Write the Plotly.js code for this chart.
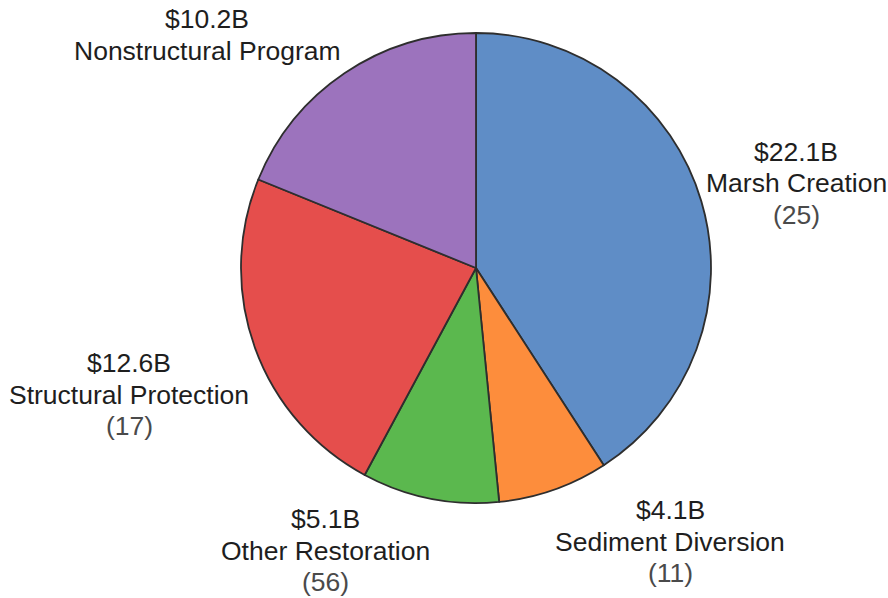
<!DOCTYPE html>
<html>
<head>
<meta charset="utf-8">
<script src="https://cdn.plot.ly/plotly-3.0.1.min.js"></script>
<style>html,body{margin:0;padding:0;background:#fff;}#chart{width:888px;height:598px;}</style>
</head>
<body>
<div id="chart"></div>
<script>
// ---- data ----
var categories = ["Marsh Creation", "Sediment Diversion", "Other Restoration", "Structural Protection", "Nonstructural Program"];
var costs = [22.1, 4.1, 5.1, 12.6, 10.2];          // $ billions
var projectCounts = [25, 11, 56, 17, null];       // number of projects (none shown for Nonstructural)

// ---- styles / layout positions ----
var colors = ["#5f8dc6", "#fd8d3c", "#5bb84e", "#e54e4c", "#9c73bd"];
// label block centre x and first-line centre y (pixels)
var labelPos = [[796, 152], [670, 510], [325, 519], [129, 363], [207, 19]];
var lineGap = 31.5;
var W = 888, H = 598;
var M = {l: 241, r: 177, t: 33, b: 95};
var pw = W - M.l - M.r, ph = H - M.t - M.b;

function px2paper(x, y) {
  return [(x - M.l) / pw, 1 - (y - M.t) / ph];
}

var annotations = [];
categories.forEach(function (cat, i) {
  var lines = [{t: "$" + costs[i].toFixed(1) + "B", c: "#1e1e1e"}, {t: cat, c: "#1e1e1e"}];
  if (projectCounts[i] !== null) lines.push({t: "(" + projectCounts[i] + ")", c: "#4a4a4a"});
  lines.forEach(function (ln, j) {
    var p = px2paper(labelPos[i][0], labelPos[i][1] + j * lineGap);
    annotations.push({
      xref: "paper", yref: "paper", x: p[0], y: p[1],
      xanchor: "center", yanchor: "middle",
      text: ln.t, showarrow: false,
      font: {family: "Liberation Sans, Arial, sans-serif", size: 26.5, color: ln.c}
    });
  });
});

var trace = {
  type: "pie",
  labels: categories,
  values: costs,
  sort: false,
  direction: "clockwise",
  rotation: 0,
  textinfo: "none",
  hoverinfo: "label+value",
  marker: {colors: colors, line: {color: "#2e2e2e", width: 1.8}},
  showlegend: false
};

var layout = {
  width: W, height: H,
  margin: M,
  paper_bgcolor: "#ffffff",
  plot_bgcolor: "#ffffff",
  showlegend: false,
  annotations: annotations
};

Plotly.newPlot("chart", [trace], layout, {displayModeBar: false, staticPlot: true});
</script>
</body>
</html>
